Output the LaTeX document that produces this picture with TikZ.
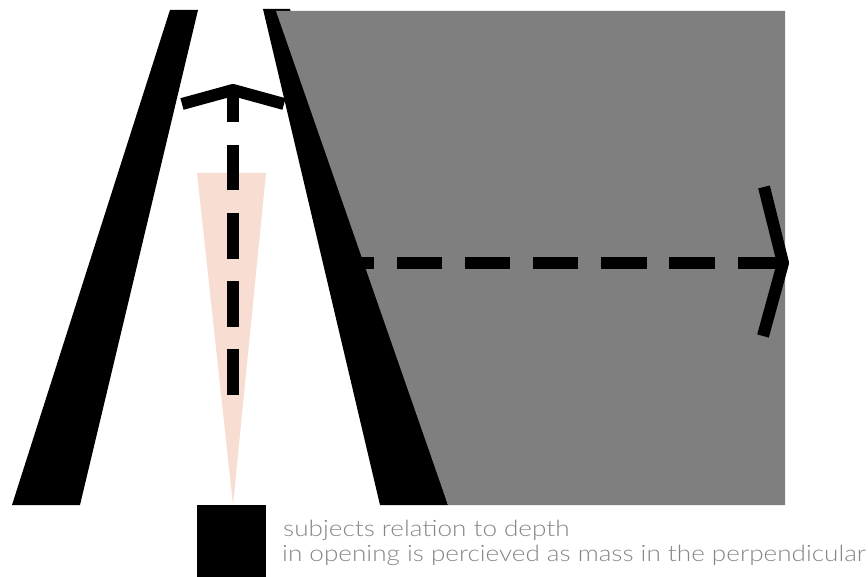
\documentclass[tikz,border=0pt]{standalone}
\usepackage{fontspec}
\newfontfamily\lightfont{Lato Light}
\definecolor{massgrey}{HTML}{7F7F7F}
\definecolor{peach}{HTML}{F8DED2}
\definecolor{textgrey}{HTML}{858585}
\begin{document}
\begin{tikzpicture}[x=1pt,y=-1pt,
  wedge/.style={fill=black},
  massfill/.style={fill=massgrey},
  conefill/.style={fill=peach},
  dashline/.style={line width=12pt, dash pattern=on 45.5pt off 22.7pt, line cap=butt},
  chevron/.style={line width=12pt, line join=bevel, line cap=butt},
  caption/.style={anchor=base west, inner sep=0pt, text=textgrey, xscale=1.16, font=\lightfont\fontsize{22.5}{24}\selectfont}]
\useasboundingbox (0,0) rectangle (868,577);
% left wedge
\fill[wedge] (170,10) -- (198,10) -- (80,505) -- (12,505) -- cycle;
% right wedge and mass
\fill[wedge] (263,9) -- (290,9) -- (448,505) -- (380,505) -- cycle;
\fill[massfill] (276,11) -- (785,11) -- (785,505) -- (448,505) -- cycle;
% cone of view
\fill[conefill] (197,173) -- (266,173) -- (233,505) -- cycle;
% subject
\node[fill=black, minimum width=69pt, minimum height=72pt, inner sep=0pt, anchor=north west] (subject) at (197,505) {};
% coordinates
\coordinate (vbot) at (233,395);
\coordinate (vtip) at (233,90);
\coordinate (vl) at (182,104);
\coordinate (vr) at (284,104);
\coordinate (hstart) at (330,263);
\coordinate (htip) at (783,263);
\coordinate (ht) at (764,187);
\coordinate (hb) at (763,336);
% vertical dashed arrow
\draw[dashline] (vbot) -- (vtip);
\draw[chevron] (vl) -- (vtip) -- (vr);
% horizontal dashed arrow
\draw[dashline] (htip) -- (hstart);
\draw[chevron] (ht) -- (htip) -- (hb);
% caption
\node[caption] (cap1) at (283,536) {subjects relation to depth};
\node[caption] (cap2) at (282,561) {in opening is percieved as mass in the perpendicular};
\end{tikzpicture}
\end{document}
